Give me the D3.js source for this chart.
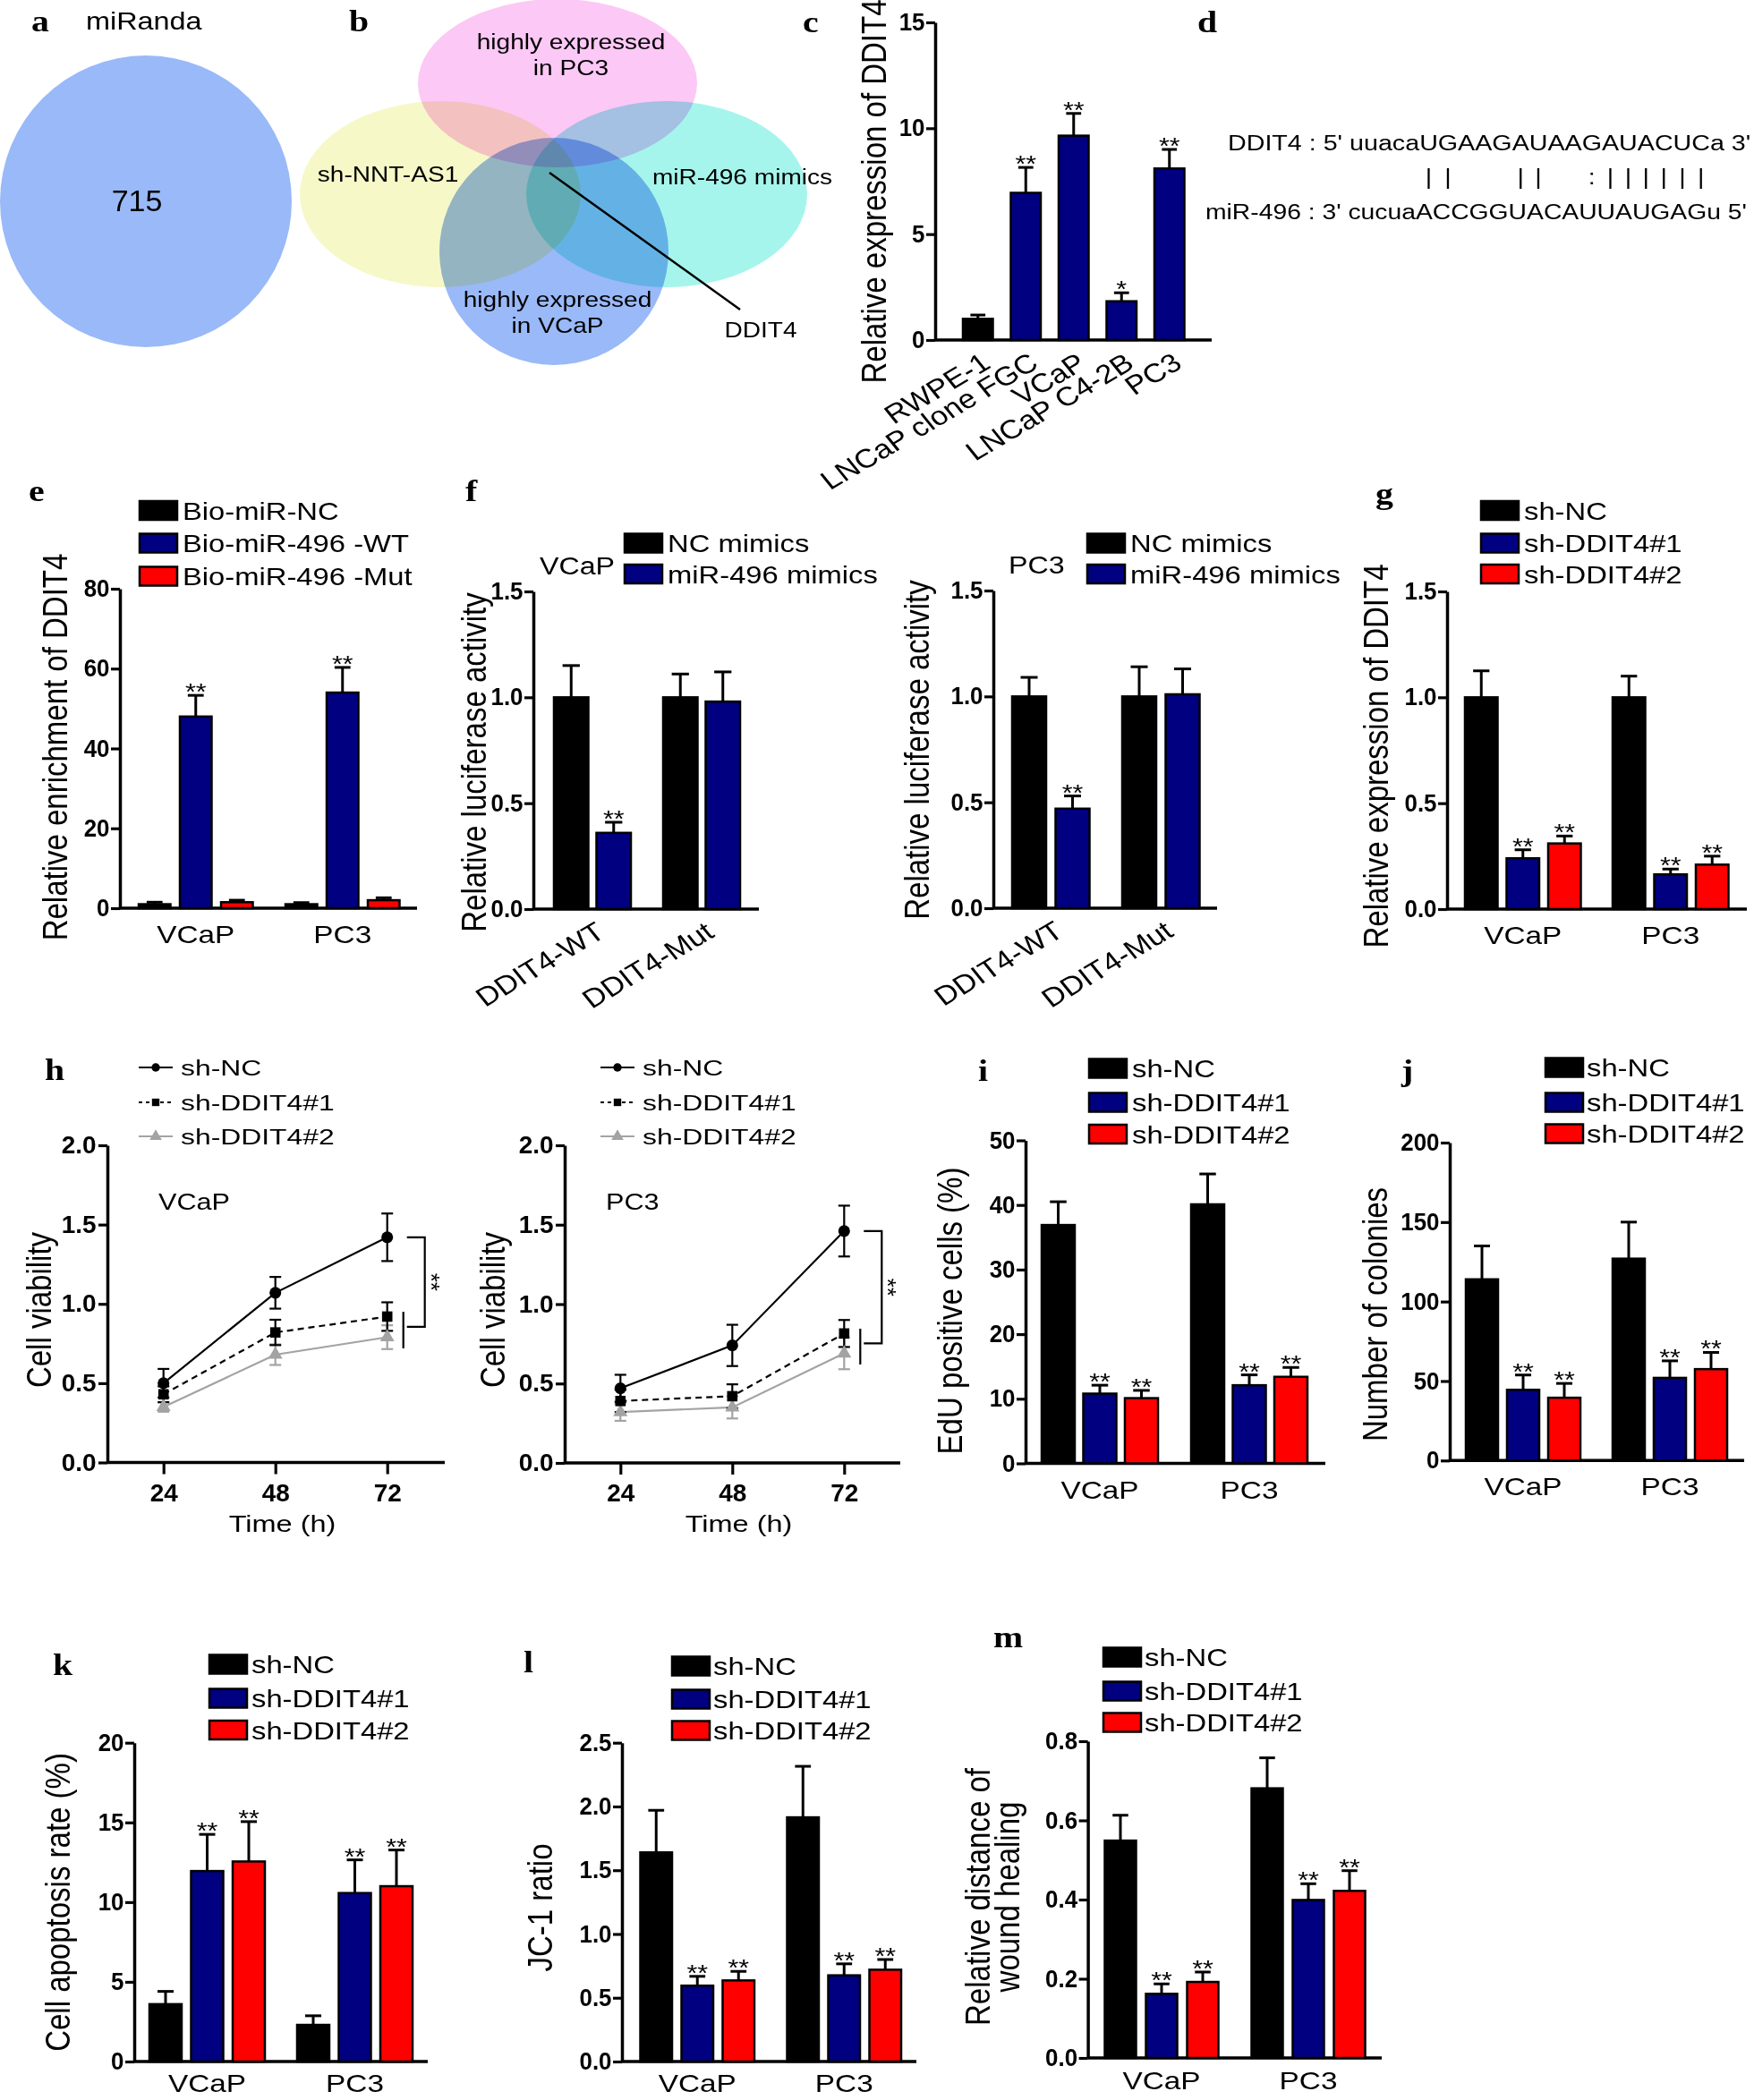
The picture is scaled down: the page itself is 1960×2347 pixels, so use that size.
<!DOCTYPE html>
<html><head><meta charset="utf-8">
<script src="https://cdn.jsdelivr.net/npm/d3@7"></script>
<style>body{margin:0;background:#fff}svg{display:block}</style>
</head><body>
<svg id="fig" width="1960" height="2347"></svg>
<script>
// ---------------- DATA ----------------
const aLabel = "miRanda";
const aCount = "715";
const vennSets = ["highly expressed|in PC3", "sh-NNT-AS1", "miR-496 mimics", "highly expressed|in VCaP"];
const vennTarget = "DDIT4";

const cCategories = ["RWPE-1", "LNCaP clone FGC", "VCaP", "LNCaP C4-2B", "PC3"];
const cValues = [1.0, 6.95, 9.65, 1.83, 8.1];
const cErrors = [0.18, 1.2, 1.05, 0.4, 0.9];
const cStars = ["", "**", "**", "*", "**"];
const cTicks = [0, 5, 10, 15];

const dTarget = "DDIT4 : 5' uuacaUGAAGAUAAGAUACUCa 3'";
const dMiR = "miR-496 : 3' cucuaACCGGUACAUUAUGAGu 5'";
const dPairs = "||   ||  :||||||";

const cells = ["VCaP", "PC3"];
const eSeries = ["Bio-miR-NC", "Bio-miR-496 -WT", "Bio-miR-496 -Mut"];
const eValues = [[1.0, 48.0, 1.5], [1.0, 54.0, 2.0]];
const eErrors = [[0.5, 5.3, 0.5], [0.4, 6.3, 0.6]];
const eStars = [["", "**", ""], ["", "**", ""]];
const eTicks = [0, 20, 40, 60, 80];

const fConstructs = ["DDIT4-WT", "DDIT4-Mut"];
const fSeries = ["NC mimics", "miR-496 mimics"];
const fVCaPValues = [[1.0, 0.36], [1.0, 0.98]];
const fVCaPErrors = [[0.15, 0.05], [0.11, 0.14]];
const fPC3Values = [[1.0, 0.47], [1.0, 1.01]];
const fPC3Errors = [[0.09, 0.06], [0.14, 0.12]];
const fStars = [["", "**"], ["", ""]];
const fTicks = [0, 0.5, 1.0, 1.5];

const shSeries = ["sh-NC", "sh-DDIT4#1", "sh-DDIT4#2"];
const shStars = [["", "**", "**"], ["", "**", "**"]];
const gValues = [[1.0, 0.24, 0.31], [1.0, 0.164, 0.21]];
const gErrors = [[0.125, 0.04, 0.035], [0.10, 0.025, 0.04]];
const gTicks = [0, 0.5, 1.0, 1.5];

const hTimes = [24, 48, 72];
const hTicks = [0, 0.5, 1.0, 1.5, 2.0];
const hVCaPNC = [0.50, 1.07, 1.42];
const hVCaPNCErr = [0.09, 0.10, 0.15];
const hVCaPSh1 = [0.43, 0.82, 0.92];
const hVCaPSh1Err = [0.05, 0.08, 0.09];
const hVCaPSh2 = [0.35, 0.68, 0.79];
const hVCaPSh2Err = [0.03, 0.065, 0.075];
const hPC3NC = [0.47, 0.74, 1.46];
const hPC3NCErr = [0.085, 0.13, 0.16];
const hPC3Sh1 = [0.39, 0.42, 0.815];
const hPC3Sh1Err = [0.07, 0.075, 0.085];
const hPC3Sh2 = [0.32, 0.35, 0.69];
const hPC3Sh2Err = [0.055, 0.07, 0.10];

const iValues = [[36.9, 10.8, 10.1], [40.1, 12.1, 13.4]];
const iErrors = [[3.6, 1.3, 1.2], [4.7, 1.6, 1.45]];
const iTicks = [0, 10, 20, 30, 40, 50];

const jValues = [[114, 44.5, 39.5], [127, 52, 57.5]];
const jErrors = [[21, 9.3, 9], [23, 10.7, 10.5]];
const jTicks = [0, 50, 100, 150, 200];

const kValues = [[3.6, 11.95, 12.55], [2.3, 10.57, 11.0]];
const kErrors = [[0.8, 2.3, 2.5], [0.57, 2.08, 2.27]];
const kTicks = [0, 5, 10, 15, 20];

const lValues = [[1.64, 0.595, 0.636], [1.915, 0.676, 0.72]];
const lErrors = [[0.33, 0.073, 0.071], [0.40, 0.09, 0.08]];
const lTicks = [0, 0.5, 1.0, 1.5, 2.0, 2.5];

const mValues = [[0.549, 0.162, 0.192], [0.681, 0.399, 0.422]];
const mErrors = [[0.064, 0.025, 0.025], [0.077, 0.041, 0.051]];
const mTicks = [0, 0.2, 0.4, 0.6, 0.8];

// ---------------- STYLE ----------------
const SANS = "'Liberation Sans', Arial, Helvetica, sans-serif";
const NARROW = "'Liberation Sans Narrow', 'Arial Narrow', 'Liberation Sans', Arial, sans-serif";
const SERIF = "'Liberation Serif', 'Times New Roman', serif";
const SX = 1.17;
const BLACK = "#000000", NAVY = "#000080", RED = "#ff0000", GRAY = "#a3a3a3";
const AXW = 3.5;

const svg = d3.select("#fig").style("isolation", "isolate");
svg.append("rect").attr("width", 1960).attr("height", 2347).attr("fill", "#fff");

// detect narrow font availability
let NSX = SX;
(function () {
  const t1 = svg.append("text").attr("font-family", NARROW).attr("font-weight", "bold").attr("font-size", 100).text("0123456789");
  const t2 = svg.append("text").attr("font-family", SANS).attr("font-weight", "bold").attr("font-size", 100).text("0123456789");
  const r = t1.node().getComputedTextLength() / t2.node().getComputedTextLength();
  if (r > 0.95) NSX = SX * 0.82;
  t1.remove(); t2.remove();
})();

function T(p, x, y, s, o = {}) {
  const sx = o.sx ?? SX;
  let tr = `translate(${x},${y}) scale(${sx},1)`;
  if (o.rot) tr += ` rotate(${o.rot})`;
  const t = p.append("text").attr("transform", tr)
    .attr("text-anchor", o.anchor || "start")
    .attr("font-family", o.ff || SANS)
    .attr("font-size", o.fs || 28)
    .attr("fill", o.fill || "#000")
    .text(s);
  if (o.bold) t.attr("font-weight", "bold");
  if (o.dy) t.attr("dy", o.dy);
  return t;
}
function letter(x, y, s) { T(svg, x, y, s, { ff: SERIF, bold: true, fs: 34 }); }

function styleAxis(ax, sx) {
  ax.attr("font-size", null).attr("font-family", null);
  ax.select(".domain").attr("stroke-width", AXW).attr("stroke", "#000");
  ax.selectAll(".tick line").attr("stroke-width", AXW * 0.9).attr("stroke", "#000");
  ax.selectAll(".tick text").attr("font-family", NARROW).attr("font-weight", "bold")
    .attr("font-size", 27).attr("fill", "#000").attr("transform", `scale(${sx || NSX},1)`);
}
function yTitle(p, x, y, s) { T(p, x, y, s, { anchor: "middle", rot: -90, fs: 33, dy: "0.35em" }); }

function swatchLegend(p, x, rows, names, colors, tx) {
  names.forEach((nm, i) => {
    p.append("rect").attr("x", x).attr("y", rows[i] - 10.5).attr("width", 42).attr("height", 21)
      .attr("fill", colors[i]).attr("stroke", "#000").attr("stroke-width", 2.5);
    T(p, tx, rows[i] + 10, nm, { fs: 28 });
  });
}

function barChart(o) {
  const g = svg.append("g");
  const y = d3.scaleLinear().domain([0, o.max]).range([o.y0, o.yTop]);
  const n = o.series.length;
  const inner = n * o.s - (o.s - o.w);
  const xg = d3.scaleBand().domain(o.groups).range([o.L, o.L + o.gstep * o.groups.length]);
  const xs = d3.scaleBand().domain(o.series).range([0, inner]).paddingInner(n > 1 ? (o.s - o.w) / o.s : 0);
  const ax = g.append("g").attr("transform", `translate(${o.axisX},0)`)
    .call(d3.axisLeft(y).tickValues(o.ticks).tickFormat(d3.format(o.fmt)).tickSize(10).tickPadding(2).tickSizeOuter(0));
  styleAxis(ax);
  g.append("line").attr("x1", o.axisX).attr("x2", o.xEnd).attr("y1", o.y0).attr("y2", o.y0)
    .attr("stroke", "#000").attr("stroke-width", AXW);
  o.groups.forEach((gr, gi) => {
    o.series.forEach((se, si) => {
      const v = o.values[gi][si], e = o.errors[gi][si];
      const x = xg(gr) + xs(se), bw = xs.bandwidth(), cx = x + bw / 2;
      g.append("line").attr("x1", cx).attr("x2", cx).attr("y1", y(v)).attr("y2", y(v + e))
        .attr("stroke", "#000").attr("stroke-width", 3);
      g.append("line").attr("x1", cx - bw * 0.25).attr("x2", cx + bw * 0.25).attr("y1", y(v + e)).attr("y2", y(v + e))
        .attr("stroke", "#000").attr("stroke-width", 3);
      g.append("rect").attr("x", x).attr("y", y(v)).attr("width", bw).attr("height", y(0) - y(v))
        .attr("fill", o.color(gi, si)).attr("stroke", "#000").attr("stroke-width", 2.5);
      const st = o.stars[gi][si];
      if (st) T(g, cx, y(v + e) + 5, st, { anchor: "middle", fs: 26 });
    });
    const gc = xg(gr) + inner / 2;
    if (o.rotLabels) T(g, gc + 16, o.y0 + 30, gr, { anchor: "end", rot: -34.6, fs: 29.5 });
    else T(g, gc, o.y0 + (o.labelDy || 39), gr, { anchor: "middle", fs: 28.5 });
  });
  if (o.title) yTitle(g, o.title.x, o.title.y, o.title.text);
  if (o.legend) swatchLegend(g, o.legend.x, o.legend.rows, o.series, o.series.map((s, i) => o.color(0, i)), o.legend.tx);
  if (o.caption) T(g, o.caption.x, o.caption.y, o.caption.text, { fs: 27.5 });
  return g;
}

// ---------------- PANEL a ----------------
letter(35, 35, "a");
svg.append("circle").attr("cx", 163).attr("cy", 225).attr("r", 163).attr("fill", "#9ab9f8");
T(svg, 96, 33, aLabel, { fs: 27, sx: 1.2 });
T(svg, 153, 236, aCount, { anchor: "middle", fs: 34, sx: 1.0 });

// ---------------- PANEL b ----------------
letter(390, 35, "b");
const vb = svg.append("g");
const ell = [
  { cx: 492, cy: 217, rx: 157, ry: 104, fill: "#f6f8c8" },
  { cx: 745, cy: 217, rx: 157, ry: 104, fill: "#a6f5ec" },
  { cx: 623, cy: 93, rx: 156, ry: 94, fill: "#fcc8f5" },
  { cx: 619, cy: 281, rx: 128, ry: 127, fill: "#9ab9f8" }
];
ell.forEach(e => vb.append("ellipse").attr("cx", e.cx).attr("cy", e.cy).attr("rx", e.rx).attr("ry", e.ry)
  .attr("fill", e.fill).style("mix-blend-mode", "multiply"));
const vLab = [
  { x: 638, y: 55 }, { x: 433.5, y: 203 }, { x: 829.5, y: 206 }, { x: 623, y: 343 }
];
vennSets.forEach((s, i) => {
  s.split("|").forEach((line, k) => T(vb, vLab[i].x, vLab[i].y + k * 28.5, line, { anchor: "middle", fs: 24 }));
});
vb.append("line").attr("x1", 614).attr("y1", 193).attr("x2", 827).attr("y2", 346).attr("stroke", "#000").attr("stroke-width", 2.5);
T(vb, 850, 377, vennTarget, { anchor: "middle", fs: 24 });

// ---------------- PANEL c ----------------
letter(897, 36, "c");
barChart({
  axisX: 1045, xEnd: 1354, y0: 380, yTop: 25, max: 15, ticks: cTicks, fmt: "d",
  groups: cCategories, series: ["v"], values: cValues.map(v => [v]), errors: cErrors.map(v => [v]),
  stars: cStars.map(s => [s]), L: 1076, gstep: 53.5, s: 33.5, w: 33.5,
  color: (gi) => gi === 0 ? BLACK : NAVY, rotLabels: true,
  title: { x: 976, y: 214, text: "Relative expression of DDIT4" }
});

// ---------------- PANEL d ----------------
letter(1338, 36, "d");
const D1X = 1372;
const dLine1 = T(svg, D1X, 168, dTarget, { fs: 24.5 });
T(svg, 1347, 245, dMiR, { fs: 24.5, sx: 1.155 });
(function () {
  const node = dLine1.node();
  const start = dTarget.indexOf("UGAAG");
  for (let k = 0; k < dPairs.length; k++) {
    const ch = dPairs[k];
    if (ch === " ") continue;
    const ext = node.getExtentOfChar(start + k);
    const cx = D1X + SX * (ext.x + ext.width / 2);
    T(svg, cx, 206, ch, { anchor: "middle", fs: 24.5 });
  }
})();

// ---------------- PANEL e ----------------
letter(32, 560, "e");
barChart({
  axisX: 134, xEnd: 466, y0: 1015, yTop: 658, max: 80, ticks: eTicks, fmt: "d",
  groups: cells, series: eSeries, values: eValues, errors: eErrors, stars: eStars,
  L: 155, gstep: 164, s: 46, w: 35.5, color: (gi, si) => [BLACK, NAVY, RED][si],
  title: { x: 61, y: 835, text: "Relative enrichment of DDIT4" },
  legend: { x: 156, rows: [570.5, 607, 644], tx: 204 }
});

// ---------------- PANEL f ----------------
letter(520, 560, "f");
barChart({
  axisX: 596, xEnd: 848, y0: 1016, yTop: 661, max: 1.5, ticks: fTicks, fmt: ".1f",
  groups: fConstructs, series: fSeries, values: fVCaPValues, errors: fVCaPErrors, stars: fStars,
  L: 619, gstep: 122, s: 47.5, w: 38.5, color: (gi, si) => [BLACK, NAVY][si], rotLabels: true,
  title: { x: 529, y: 852, text: "Relative luciferase activity" },
  legend: { x: 698, rows: [607, 641.5], tx: 746 },
  caption: { x: 603, y: 642, text: "VCaP" }
});
barChart({
  axisX: 1110, xEnd: 1360, y0: 1015, yTop: 660, max: 1.5, ticks: fTicks, fmt: ".1f",
  groups: fConstructs, series: fSeries, values: fPC3Values, errors: fPC3Errors, stars: fStars,
  L: 1131, gstep: 123, s: 48.5, w: 38, color: (gi, si) => [BLACK, NAVY][si], rotLabels: true,
  title: { x: 1024, y: 838, text: "Relative luciferase activity" },
  legend: { x: 1215, rows: [607, 641.5], tx: 1263 },
  caption: { x: 1127, y: 641, text: "PC3" }
});

// ---------------- PANEL g ----------------
letter(1537, 563, "g");
barChart({
  axisX: 1617, xEnd: 1952, y0: 1016, yTop: 661, max: 1.5, ticks: gTicks, fmt: ".1f",
  groups: cells, series: shSeries, values: gValues, errors: gErrors, stars: shStars,
  L: 1637, gstep: 165, s: 46.5, w: 36.5, color: (gi, si) => [BLACK, NAVY, RED][si],
  title: { x: 1537, y: 845, text: "Relative expression of DDIT4" },
  legend: { x: 1655, rows: [570.5, 607, 641.5], tx: 1703 }
});

// ---------------- PANEL h ----------------
letter(50, 1207, "h");
function linePanel(o) {
  const g = svg.append("g");
  const y = d3.scaleLinear().domain([0, 2]).range([o.y0, o.yTop]);
  const x = d3.scaleLinear().domain([24, 72]).range(o.xr);
  const ax = g.append("g").attr("transform", `translate(${o.axisX},0)`)
    .call(d3.axisLeft(y).tickValues(hTicks).tickFormat(d3.format(".1f")).tickSize(10).tickPadding(2).tickSizeOuter(0));
  styleAxis(ax, NSX * 1.08);
  g.append("line").attr("x1", o.axisX).attr("x2", o.xEnd).attr("y1", o.y0).attr("y2", o.y0)
    .attr("stroke", "#000").attr("stroke-width", AXW);
  const xa = g.append("g").attr("transform", `translate(0,${o.y0})`)
    .call(d3.axisBottom(x).tickValues(hTimes).tickSize(13).tickSizeOuter(0));
  xa.select(".domain").remove();
  styleAxis(xa, NSX * 1.08);
  xa.selectAll(".tick text").attr("y", 24).attr("dy", "0.71em").attr("text-anchor", "middle");
  T(g, (o.axisX + o.xEnd) / 2 + 7, o.y0 + 77, "Time (h)", { anchor: "middle", fs: 25, sx: 1.3 });
  yTitle(g, o.titleX, 1464, "Cell viability");
  T(g, o.capX, 1352, o.cap, { fs: 25.5, sx: 1.2 });

  const ser = [
    { v: o.sh2, e: o.sh2e, color: GRAY, dash: null, sym: d3.symbolTriangle },
    { v: o.sh1, e: o.sh1e, color: BLACK, dash: "7,5", sym: d3.symbolSquare },
    { v: o.nc, e: o.nce, color: BLACK, dash: null, sym: d3.symbolCircle }
  ];
  const line = d3.line().x((d, i) => x(hTimes[i])).y(d => y(d));
  ser.forEach(s => {
    g.append("path").attr("d", line(s.v)).attr("fill", "none").attr("stroke", s.color).attr("stroke-width", 2.2)
      .attr("stroke-dasharray", s.dash);
  });
  ser.forEach(s => {
    s.v.forEach((v, i) => {
      const cx = x(hTimes[i]);
      g.append("line").attr("x1", cx).attr("x2", cx).attr("y1", y(v - s.e[i])).attr("y2", y(v + s.e[i]))
        .attr("stroke", s.color).attr("stroke-width", 2.2);
      [v - s.e[i], v + s.e[i]].forEach(w => g.append("line").attr("x1", cx - 6.5).attr("x2", cx + 6.5)
        .attr("y1", y(w)).attr("y2", y(w)).attr("stroke", s.color).attr("stroke-width", 2.2));
    });
  });
  ser.forEach(s => {
    s.v.forEach((v, i) => {
      g.append("path").attr("d", d3.symbol().type(s.sym).size(s.sym === d3.symbolTriangle ? 110 : 135)())
        .attr("transform", `translate(${x(hTimes[i])},${y(v)})`).attr("fill", s.color);
    });
  });
  // significance bracket
  const x72 = x(72);
  const yt = y(o.nc[2]), yb = y((o.sh1[2] + o.sh2[2]) / 2);
  g.append("path").attr("d", `M${x72 + 22},${yt}H${x72 + 42}V${yb}H${x72 + 22}`)
    .attr("fill", "none").attr("stroke", "#000").attr("stroke-width", 2.2);
  g.append("line").attr("x1", x72 + 18).attr("x2", x72 + 18).attr("y1", y(o.sh1[2] + 0.03)).attr("y2", y(o.sh2[2] - 0.07))
    .attr("stroke", "#000").attr("stroke-width", 2.2);
  T(g, x72 + 40, (yt + yb) / 2, "**", { anchor: "middle", rot: 90, fs: 26, sx: 1 });
  // legend
  const lrows = [1193, 1232, 1270];
  [ser[2], ser[1], ser[0]].forEach((s, i) => {
    g.append("line").attr("x1", o.legX).attr("x2", o.legX + 38).attr("y1", lrows[i]).attr("y2", lrows[i])
      .attr("stroke", s.color).attr("stroke-width", 2.2).attr("stroke-dasharray", s.dash ? "4,4" : null);
    g.append("path").attr("d", d3.symbol().type(s.sym).size(s.sym === d3.symbolTriangle ? 80 : 70)())
      .attr("transform", `translate(${o.legX + 19},${lrows[i]})`).attr("fill", s.color);
    T(g, o.legX + 47, lrows[i] + 9, shSeries[i], { fs: 24.5, sx: 1.3 });
  });
}
linePanel({
  axisX: 120, xEnd: 497, y0: 1634.5, yTop: 1280, xr: [182.7, 432.7], titleX: 43, capX: 177, cap: "VCaP", legX: 155,
  nc: hVCaPNC, nce: hVCaPNCErr, sh1: hVCaPSh1, sh1e: hVCaPSh1Err, sh2: hVCaPSh2, sh2e: hVCaPSh2Err
});
linePanel({
  axisX: 631, xEnd: 1006, y0: 1635, yTop: 1280, xr: [693.3, 943.3], titleX: 550, capX: 677, cap: "PC3", legX: 671,
  nc: hPC3NC, nce: hPC3NCErr, sh1: hPC3Sh1, sh1e: hPC3Sh1Err, sh2: hPC3Sh2, sh2e: hPC3Sh2Err
});

// ---------------- PANEL i ----------------
letter(1093, 1208, "i");
barChart({
  axisX: 1146, xEnd: 1481, y0: 1635.5, yTop: 1274.5, max: 50, ticks: iTicks, fmt: "d",
  groups: cells, series: shSeries, values: iValues, errors: iErrors, stars: shStars,
  L: 1164, gstep: 167, s: 46.5, w: 37, color: (gi, si) => [BLACK, NAVY, RED][si],
  title: { x: 1061, y: 1465, text: "EdU positive cells (%)" },
  legend: { x: 1217, rows: [1194, 1232, 1267.5], tx: 1265 }
});

// ---------------- PANEL j ----------------
letter(1566, 1208, "j");
barChart({
  axisX: 1620, xEnd: 1949, y0: 1632.3, yTop: 1277, max: 200, ticks: jTicks, fmt: "d",
  groups: cells, series: shSeries, values: jValues, errors: jErrors, stars: shStars,
  L: 1638, gstep: 164, s: 46, w: 36, color: (gi, si) => [BLACK, NAVY, RED][si],
  title: { x: 1536, y: 1469, text: "Number of colonies" },
  legend: { x: 1727, rows: [1193, 1232, 1267], tx: 1773 }
});

// ---------------- PANEL k ----------------
letter(59, 1872, "k");
barChart({
  axisX: 150, xEnd: 478, y0: 2304, yTop: 1947.7, max: 20, ticks: kTicks, fmt: "d",
  groups: cells, series: shSeries, values: kValues, errors: kErrors, stars: shStars,
  L: 167, gstep: 165, s: 46.5, w: 36, color: (gi, si) => [BLACK, NAVY, RED][si], labelDy: 34,
  title: { x: 64, y: 2126, text: "Cell apoptosis rate (%)" },
  legend: { x: 234, rows: [1860, 1898, 1933.5], tx: 281 }
});

// ---------------- PANEL l ----------------
letter(585, 1869, "l");
barChart({
  axisX: 695, xEnd: 1024, y0: 2304, yTop: 1947.7, max: 2.5, ticks: lTicks, fmt: ".1f",
  groups: cells, series: shSeries, values: lValues, errors: lErrors, stars: shStars,
  L: 715.5, gstep: 164, s: 46, w: 35.5, color: (gi, si) => [BLACK, NAVY, RED][si], labelDy: 34,
  title: { x: 603, y: 2132, text: "JC-1 ratio" },
  legend: { x: 751, rows: [1862, 1899, 1934], tx: 797 }
});

// ---------------- PANEL m ----------------
letter(1110, 1841, "m");
const mg = barChart({
  axisX: 1215.6, xEnd: 1544, y0: 2300, yTop: 1946, max: 0.8, ticks: mTicks, fmt: ".1f",
  groups: cells, series: shSeries, values: mValues, errors: mErrors, stars: shStars,
  L: 1234.5, gstep: 164, s: 46, w: 35, color: (gi, si) => [BLACK, NAVY, RED][si], labelDy: 35,
  legend: { x: 1233, rows: [1852, 1890, 1925], tx: 1279 }
});
yTitle(mg, 1092, 2120, "Relative distance of");
yTitle(mg, 1125.5, 2120, "wound healing");
</script>
</body></html>
